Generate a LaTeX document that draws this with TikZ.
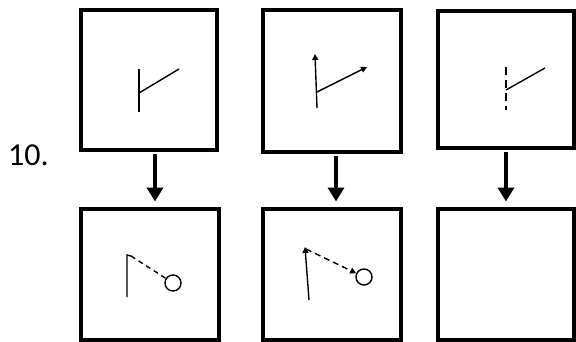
\documentclass[tikz,border=0pt]{standalone}
\usepackage{fontspec}
\setmainfont{Carlito}
\usetikzlibrary{arrows.meta,positioning}

\begin{document}
\begin{tikzpicture}[x=1pt, y=-1pt,
  panel/.style={draw=black, line width=4pt, minimum width=136pt, inner sep=0pt},
  down/.style={-{Triangle[length=14pt, width=16pt]}, line width=4pt, shorten >=5pt, shorten <=2pt},
  stroke/.style={line width=1.4pt},
  tipped/.style={stroke, -{Triangle[length=6pt, width=6pt]}},
  ball/.style={circle, draw=black, line width=1.4pt, minimum size=16pt, inner sep=0pt}
]
  \useasboundingbox (0,0) rectangle (576,341);
  % Row A: panels
  \node[panel, minimum height=140pt] (p1) at (149,80) {};
  \node[panel, minimum height=142pt, minimum width=138pt] (p2) at (332,81) {};
  \node[panel, minimum height=137pt] (p3) at (506,79) {};
  % Row B: panels
  \node[panel, minimum height=131pt, minimum width=138pt] (q1) at (150,274) {};
  \node[panel, minimum height=131pt, minimum width=138pt] (q2) at (332,274) {};
  \node[panel, minimum height=131pt] (q3) at (506,274) {};
  % Label
  \node[font=\fontsize{32}{38}\selectfont, anchor=base west, inner sep=0pt] (num) at (8,165) {10.};
  % Flow
  \draw[down] (p1.south -| 155,0) -- (q1.north -| 155,0);
  \draw[down] (p2.south -| 336,0) -- (q2.north -| 336,0);
  \draw[down] (p3.south -| 506,0) -- (q3.north -| 506,0);
  % Panel 1
  \draw[stroke] (139,69) -- (139,112);
  \draw[stroke] (139,93) -- (179,69);
  % Panel 2
  \draw[tipped] (317,108) -- (315,54);
  \draw[tipped] (317,92) -- (367,67);
  % Panel 3
  \draw[stroke, dash pattern=on 8pt off 5pt] (506,67) -- (506,110);
  \draw[stroke] (506,90) -- (545,68);
  % Panel 4
  \node[ball] (c1) at (173,283) {};
  \draw[stroke] (127,297) -- (127,255) -- (131,256);
  \draw[stroke, dash pattern=on 5pt off 4pt] (131,256) -- (c1);
  % Panel 5
  \node[ball] (c2) at (364,277) {};
  \draw[tipped] (309,300) -- (305,247);
  \draw[tipped, dash pattern=on 6pt off 4pt] (306,249) -- (c2);
\end{tikzpicture}
\end{document}
